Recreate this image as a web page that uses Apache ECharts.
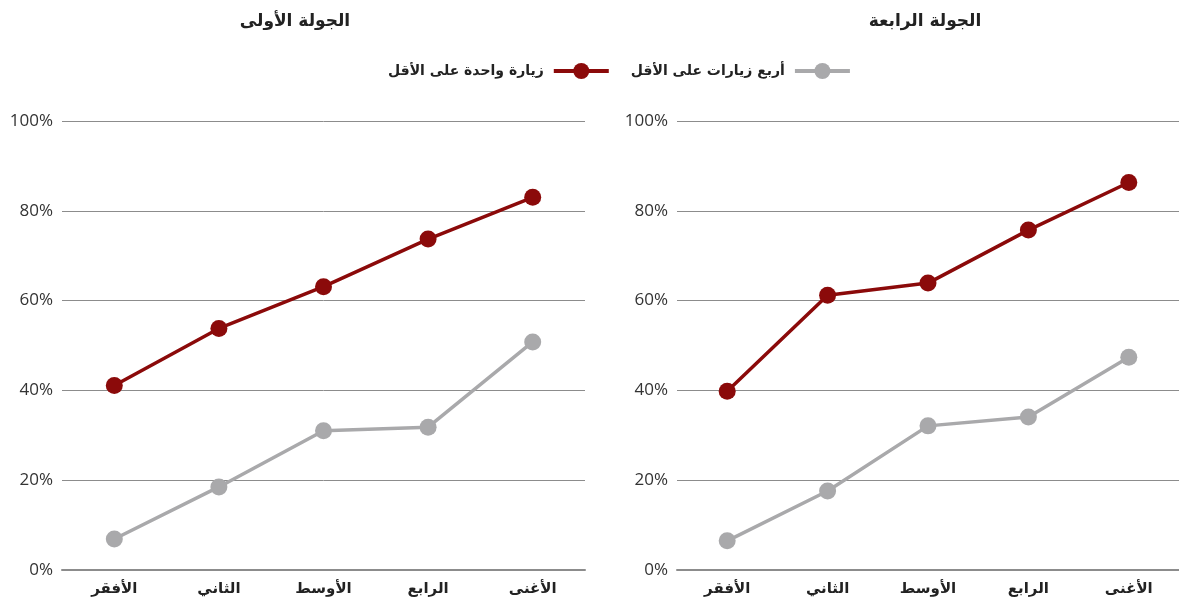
<!DOCTYPE html>
<html>
<head>
<meta charset="utf-8">
<script src="https://cdn.jsdelivr.net/npm/echarts@6/dist/echarts.min.js"></script>
<style>
html,body{margin:0;padding:0;background:#fff;}
#chart{width:1179px;height:605px;}
</style>
</head>
<body>
<div id="chart"></div>
<script>
const categories = ['الأفقر', 'الثاني', 'الأوسط', 'الرابع', 'الأغنى'];
const panelTitles = ['الجولة الأولى', 'الجولة الرابعة'];
const seriesNames = ['زيارة واحدة على الأقل', 'أربع زيارات على الأقل'];
const round1AtLeastOne = [41.1, 53.8, 63.1, 73.7, 83.0];
const round1AtLeastFour = [6.9, 18.5, 31.0, 31.8, 50.8];
const round4AtLeastOne = [39.8, 61.2, 63.9, 75.7, 86.3];
const round4AtLeastFour = [6.5, 17.6, 32.1, 34.1, 47.4];
const yTicks = [0, 20, 40, 60, 80, 100];

const RED = '#8b0a0a';
const GREY = '#a9a9ab';
const arabicFont = 'DejaVu Sans';
const numFont = 'Open Sans';

const chart = echarts.init(document.getElementById('chart'));

function xAxis(gridIndex) {
  return {
    type: 'category', gridIndex, data: categories, boundaryGap: true,
    axisLine: {show: true, lineStyle: {color: '#8c8c8c', width: 2}},
    axisTick: {show: false},
    axisLabel: {fontFamily: arabicFont, fontWeight: 'bold', fontSize: 15, color: '#222', margin: 12}
  };
}
function yAxis(gridIndex) {
  return {
    type: 'value', gridIndex, min: yTicks[0], max: yTicks[yTicks.length - 1], interval: 20,
    axisLine: {show: false}, axisTick: {show: false},
    splitLine: {lineStyle: {color: '#8c8c8c', width: 1}},
    axisLabel: {formatter: v => v + '%', fontFamily: numFont, fontSize: 17, color: '#333', margin: 9}
  };
}
function line(name, data, idx, color) {
  return {
    name, type: 'line', xAxisIndex: idx, yAxisIndex: idx, data,
    symbol: 'circle', symbolSize: 17,
    lineStyle: {color, width: 3.5},
    itemStyle: {color},
    z: color === RED ? 3 : 2
  };
}

chart.setOption({
  animation: false,
  title: [
    {text: panelTitles[0], left: 290, top: 8, textAlign: 'center',
     textStyle: {fontFamily: arabicFont, fontWeight: 'bold', fontSize: 17, color: '#222'}},
    {text: panelTitles[1], left: 920, top: 8, textAlign: 'center',
     textStyle: {fontFamily: arabicFont, fontWeight: 'bold', fontSize: 17, color: '#222'}}
  ],
  legend: {
    data: [seriesNames[0], seriesNames[1]],
    top: 58, left: 383, align: 'right',
    itemWidth: 55, itemHeight: 20, itemGap: 20,
    lineStyle: {width: 4},
    textStyle: {fontFamily: arabicFont, fontWeight: 'bold', fontSize: 14, color: '#222', padding: [0, 5, 0, 0]}
  },
  grid: [
    {left: 62, width: 523, top: 121, height: 449},
    {left: 677, width: 502, top: 121, height: 449}
  ],
  xAxis: [xAxis(0), xAxis(1)],
  yAxis: [yAxis(0), yAxis(1)],
  series: [
    line(seriesNames[1], round1AtLeastFour, 0, GREY),
    line(seriesNames[0], round1AtLeastOne, 0, RED),
    line(seriesNames[1], round4AtLeastFour, 1, GREY),
    line(seriesNames[0], round4AtLeastOne, 1, RED)
  ]
});
</script>
</body>
</html>
